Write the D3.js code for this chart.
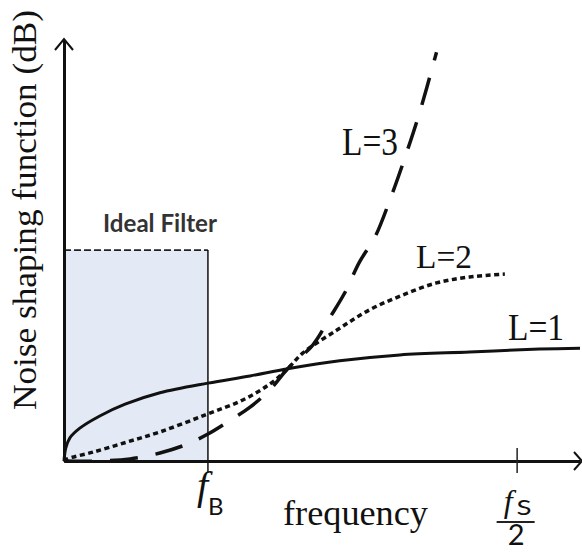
<!DOCTYPE html>
<html>
<head>
<meta charset="utf-8">
<script src="https://cdn.jsdelivr.net/npm/d3@7"></script>
<style>
  html, body { margin: 0; padding: 0; background: #fff; }
  svg { display: block; }
</style>
</head>
<body>
<svg id="chart" width="582" height="553"></svg>
<script>
// ---- data (x: frequency in units of fs/2, y: arbitrary dB-like units) ----
const seriesNames = ["L=1", "L=2", "L=3"];

const L1x = [0, 0.004, 0.013, 0.035, 0.079, 0.135, 0.212, 0.318, 0.411, 0.494, 0.609, 0.742, 0.896, 1.051, 1.14];
const L1y = [0, 3.1, 5.5, 7.8, 10.7, 13.5, 16.2, 18.5, 20.2, 21.9, 23.8, 25.2, 25.9, 26.6, 26.8];

const L2x = [0, 0.007, 0.064, 0.139, 0.212, 0.311, 0.395, 0.455, 0.494, 0.528, 0.603, 0.675, 0.748, 0.823, 0.896, 0.974];
const L2y = [0, 0.5, 2.1, 4.5, 6.9, 10.9, 14.5, 18.3, 21.9, 25.7, 31.1, 35.9, 39.4, 42.3, 43.7, 44.4];

const L3x = [0, 0.079, 0.146, 0.212, 0.272, 0.318, 0.362, 0.411, 0.455, 0.494, 0.550, 0.587, 0.620, 0.653, 0.687, 0.720, 0.753, 0.786, 0.823];
const L3y = [0, 0, 0.5, 1.9, 4.0, 6.4, 9.3, 12.8, 16.9, 21.9, 27.6, 34.0, 39.9, 47.3, 53.2, 62.0, 72.0, 82.9, 97.1];

const fB = 0.318;          // band edge
const fHalf = 1;           // fs/2
const xMax = 1.14;
const yMax = 100;
const filterLevel = 50.1;  // ideal filter height

const xLabel = "frequency";
const yLabel = "Noise shaping function (dB)";
const filterLabel = "Ideal Filter";

// ---- drawing ----
const svg = d3.select("#chart");
const x = d3.scaleLinear().domain([0, xMax]).range([64, 580]);
const y = d3.scaleLinear().domain([0, yMax]).range([461, 40]);

const serif = "'Liberation Serif', 'Times New Roman', serif";
const sans = "Lato, 'Open Sans', sans-serif";

// ideal filter box
svg.append("rect")
  .attr("x", x(0)).attr("y", y(filterLevel))
  .attr("width", x(fB) - x(0)).attr("height", y(0) - y(filterLevel))
  .attr("fill", "#e3e9f5");
svg.append("line")
  .attr("x1", x(0)).attr("x2", x(fB))
  .attr("y1", y(filterLevel)).attr("y2", y(filterLevel))
  .attr("stroke", "#222").attr("stroke-width", 1.6).attr("stroke-dasharray", "7,3");
svg.append("line")
  .attr("x1", x(fB)).attr("x2", x(fB))
  .attr("y1", y(filterLevel)).attr("y2", y(0) + 12)
  .attr("stroke", "#111").attr("stroke-width", 1.5);

svg.append("text")
  .attr("x", 103).attr("y", 232)
  .attr("font-family", sans).attr("font-weight", 700).attr("font-size", 24)
  .attr("fill", "#333")
  .attr("textLength", 114).attr("lengthAdjust", "spacingAndGlyphs")
  .text(filterLabel);

// curves
const line = d3.line().x(d => x(d[0])).y(d => y(d[1])).curve(d3.curveCatmullRom.alpha(0.5));
const series = [
  { name: seriesNames[0], pts: d3.zip(L1x, L1y), dash: null, w: 3 },
  { name: seriesNames[1], pts: d3.zip(L2x, L2y), dash: "5,3.5", w: 3.5 },
  { name: seriesNames[2], pts: d3.zip(L3x, L3y), dash: "28,18", w: 3.5 }
];
svg.selectAll("path.curve").data(series).join("path")
  .attr("class", "curve")
  .attr("d", d => line(d.pts))
  .attr("fill", "none").attr("stroke", "#111")
  .attr("stroke-width", d => d.w)
  .attr("stroke-dasharray", d => d.dash);

// axes
const xAxis = svg.append("g").attr("transform", `translate(0,${y(0)})`)
  .call(d3.axisBottom(x).tickValues([fHalf]).tickFormat("").tickSizeOuter(0).tickSizeInner(12));
xAxis.select(".domain").attr("stroke", "#111").attr("stroke-width", 3);
xAxis.selectAll(".tick line").attr("y1", -13).attr("y2", 12).attr("stroke", "#222").attr("stroke-width", 1.5);

const yAxis = svg.append("g").attr("transform", `translate(${x(0)},0)`)
  .call(d3.axisLeft(y).tickValues([]).tickSizeOuter(0));
yAxis.select(".domain").attr("stroke", "#111").attr("stroke-width", 3);

// arrow heads
const ax = x(xMax) + 2, ay = y(0);
svg.append("path")
  .attr("d", `M${ax - 8},${ay - 9} L${ax},${ay} L${ax - 8},${ay + 9}`)
  .attr("fill", "none").attr("stroke", "#111").attr("stroke-width", 2);
const tx = x(0), ty = y(yMax) - 1;
svg.append("path")
  .attr("d", `M${tx - 9},${ty + 11} L${tx},${ty} L${tx + 9},${ty + 11}`)
  .attr("fill", "none").attr("stroke", "#111").attr("stroke-width", 2);

// series labels
const labelPos = [
  { t: seriesNames[0], x: 508, y: 340, k: 1.12 },
  { t: seriesNames[1], x: 416, y: 268, k: 1.0 },
  { t: seriesNames[2], x: 342, y: 155, k: 1.22 }
];
labelPos.forEach(l => {
  svg.append("text")
    .attr("transform", `translate(${l.x},${l.y}) scale(1,${l.k})`)
    .attr("font-family", serif).attr("font-size", 33).attr("fill", "#111")
    .attr("textLength", 56).attr("lengthAdjust", "spacingAndGlyphs")
    .text(l.t);
});

// x label
svg.append("text")
  .attr("x", 283).attr("y", 525)
  .attr("font-family", serif).attr("font-size", 36).attr("fill", "#111")
  .attr("textLength", 145).attr("lengthAdjust", "spacingAndGlyphs")
  .text(xLabel);

// y label
svg.append("text")
  .attr("transform", "translate(36,210) rotate(-90)")
  .attr("text-anchor", "middle")
  .attr("font-family", serif).attr("font-size", 33).attr("fill", "#111")
  .attr("textLength", 400).attr("lengthAdjust", "spacingAndGlyphs")
  .text(yLabel);

// f_B label
const fbx = x(fB);
svg.append("text").attr("x", fbx - 11).attr("y", 499)
  .attr("font-family", serif).attr("font-style", "italic").attr("font-size", 40).attr("fill", "#111")
  .text("f");
svg.append("text").attr("x", fbx).attr("y", 515)
  .attr("font-family", sans).attr("font-size", 24).attr("fill", "#111").text("B");

// fs/2 label
const fsx = x(fHalf);
svg.append("text").attr("x", fsx - 13).attr("y", 512)
  .attr("font-family", serif).attr("font-style", "italic").attr("font-size", 32).attr("fill", "#111").text("f");
svg.append("text").attr("x", fsx).attr("y", 515)
  .attr("font-family", sans).attr("font-size", 21).attr("fill", "#111")
  .attr("textLength", 15).attr("lengthAdjust", "spacingAndGlyphs").text("S");
svg.append("line").attr("x1", fsx - 20).attr("x2", fsx + 18).attr("y1", 522).attr("y2", 522)
  .attr("stroke", "#222").attr("stroke-width", 1.8);
svg.append("text").attr("x", fsx - 9).attr("y", 545)
  .attr("font-family", sans).attr("font-size", 29).attr("fill", "#111").text("2");
</script>
</body>
</html>
